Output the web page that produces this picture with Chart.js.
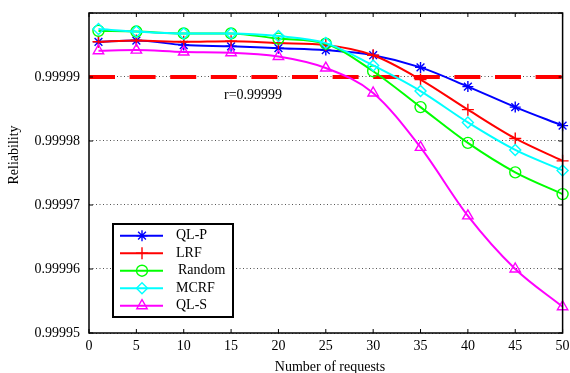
<!DOCTYPE html>
<html>
<head>
<meta charset="utf-8">
<script src="https://cdn.jsdelivr.net/npm/chart.js@4/dist/chart.umd.min.js"></script>
<style>
  html, body { margin: 0; padding: 0; background: #fff; }
</style>
</head>
<body>
<canvas id="relChart" width="570" height="373"></canvas>
<script>
// Reliability vs number of requests

const requests = [1, 5, 10, 15, 20, 25, 30, 35, 40, 45, 50];
const qlP    = [0.9999955, 0.9999957, 0.9999950, 0.9999948, 0.9999945, 0.9999942, 0.9999934, 0.9999915, 0.9999885, 0.9999853, 0.9999824];
const lrf    = [0.9999955, 0.9999957, 0.9999955, 0.9999956, 0.9999953, 0.9999950, 0.9999934, 0.9999896, 0.9999849, 0.9999804, 0.9999769];
const random = [0.9999972, 0.9999971, 0.9999968, 0.9999968, 0.9999960, 0.9999952, 0.9999909, 0.9999853, 0.9999797, 0.9999751, 0.9999717];
const mcrf   = [0.9999975, 0.9999971, 0.9999968, 0.9999968, 0.9999964, 0.9999953, 0.9999918, 0.9999878, 0.9999829, 0.9999786, 0.9999754];
const qlS    = [0.9999941, 0.9999942, 0.9999939, 0.9999938, 0.9999932, 0.9999914, 0.9999875, 0.9999790, 0.9999683, 0.9999600, 0.9999541];

const seriesNames = ["QL-P", "LRF", "Random", "MCRF", "QL-S"];
const seriesValues = [qlP, lrf, random, mcrf, qlS];

const threshold = 0.99999;
const thresholdLabel = "r=0.99999";
const xTitle = "Number of requests";
const yTitle = "Reliability";

const serif = "'Liberation Serif', 'DejaVu Serif', serif";

// line colour + marker per series (matlab look)
const looks = [
  { color: "#0000ff", point: "star",     r: 5.5 },
  { color: "#ff0000", point: "cross",    r: 6 },
  { color: "#00ff00", point: "circle",   r: 5.5 },
  { color: "#00ffff", point: "rectRot",  r: 5.5 },
  { color: "#ff00ff", point: "triangle", r: 6 }
];

const datasets = seriesValues.map((vals, i) => ({
  label: seriesNames[i],
  data: vals.map((v, j) => ({ x: requests[j], y: v })),
  borderColor: looks[i].color,
  borderWidth: 2,
  backgroundColor: looks[i].color,
  pointStyle: looks[i].point,
  pointRadius: looks[i].r,
  pointBorderWidth: 1.4,
  pointBorderColor: looks[i].color,
  pointBackgroundColor: "rgba(0,0,0,0)",
  cubicInterpolationMode: "monotone",
  clip: false,
  order: 5 - i
}));

datasets.push({
  label: "threshold",
  data: [{ x: 0, y: threshold }, { x: 50, y: threshold }],
  borderColor: "#ff0000",
  borderWidth: 4,
  borderDash: [26, 14.6],
  borderCapStyle: "butt",
  pointRadius: 0,
  order: 10
});

// frame, inner ticks, titles, annotation and the boxed legend
const decor = {
  id: "decor",
  afterDraw(chart) {
    const { ctx, chartArea: a, scales: { x, y } } = chart;
    ctx.save();

    ctx.strokeStyle = "#000";
    ctx.lineWidth = 1.5;
    ctx.strokeRect(a.left, a.top, a.right - a.left, a.bottom - a.top);

    ctx.lineWidth = 1;
    ctx.beginPath();
    x.ticks.forEach(t => {
      const px = x.getPixelForValue(t.value);
      ctx.moveTo(px, a.bottom); ctx.lineTo(px, a.bottom - 4);
      ctx.moveTo(px, a.top); ctx.lineTo(px, a.top + 4);
    });
    y.ticks.forEach(t => {
      const py = y.getPixelForValue(t.value);
      ctx.moveTo(a.left, py); ctx.lineTo(a.left + 4, py);
      ctx.moveTo(a.right, py); ctx.lineTo(a.right - 4, py);
    });
    ctx.stroke();

    ctx.fillStyle = "#000";
    ctx.font = "14px " + serif;
    ctx.textBaseline = "middle";

    ctx.textAlign = "left";
    ctx.fillText(thresholdLabel, 224, 95.5);

    ctx.textAlign = "center";
    ctx.fillText(xTitle, 330, 367.5);
    ctx.save();
    ctx.translate(14, 155);
    ctx.rotate(-Math.PI / 2);
    ctx.fillText(yTitle, 0, 0);
    ctx.restore();

    // legend box
    const box = { l: 113, t: 224, r: 233, b: 317 };
    ctx.fillStyle = "#fff";
    ctx.fillRect(box.l, box.t, box.r - box.l, box.b - box.t);
    ctx.strokeStyle = "#000";
    ctx.lineWidth = 2;
    ctx.strokeRect(box.l, box.t, box.r - box.l, box.b - box.t);

    seriesNames.forEach((name, i) => {
      const ry = 235.7 + i * 17.5;
      ctx.strokeStyle = looks[i].color;
      ctx.lineWidth = 2;
      ctx.beginPath();
      ctx.moveTo(120, ry); ctx.lineTo(163, ry);
      ctx.stroke();
      ctx.fillStyle = "rgba(0,0,0,0)";
      ctx.lineWidth = 1.4;
      Chart.helpers.drawPoint(ctx, {
        pointStyle: looks[i].point, radius: looks[i].r, rotation: 0, borderWidth: 1.4
      }, 142, ry);
      ctx.fillStyle = "#000";
      ctx.textAlign = "left";
      ctx.fillText(name, name === "Random" ? 178 : 176, ry);
    });

    ctx.restore();
  }
};

const ctx = document.getElementById("relChart").getContext("2d");
new Chart(ctx, {
  type: "line",
  data: { datasets: datasets },
  options: {
    responsive: false,
    animation: false,
    layout: { padding: { top: 13, right: 6, left: 0, bottom: 0 } },
    plugins: {
      legend: { display: false },
      tooltip: { enabled: false }
    },
    scales: {
      x: {
        type: "linear",
        min: 0,
        max: 50,
        grid: { display: false, drawTicks: false },
        border: { display: false },
        ticks: { stepSize: 5, padding: 5, color: "#000", font: { family: serif, size: 14 } },
        afterFit(scale) {
          scale.height = 40;
          scale.paddingLeft = 0;
          scale.paddingRight = 0;
        }
      },
      y: {
        min: 0.99995,
        max: 1.0,
        grid: { color: "#555", lineWidth: 1, drawTicks: false },
        border: { display: false, dash: [1, 2.5] },
        ticks: {
          stepSize: 0.00001,
          padding: 9,
          color: "#000",
          font: { family: serif, size: 14 },
          callback: v => (v > 0.999995 ? "" : v.toFixed(5))
        },
        afterFit(scale) {
          scale.width = 89;
          scale.paddingTop = 0;
          scale.paddingBottom = 0;
        }
      }
    }
  },
  plugins: [decor]
});
</script>
</body>
</html>
